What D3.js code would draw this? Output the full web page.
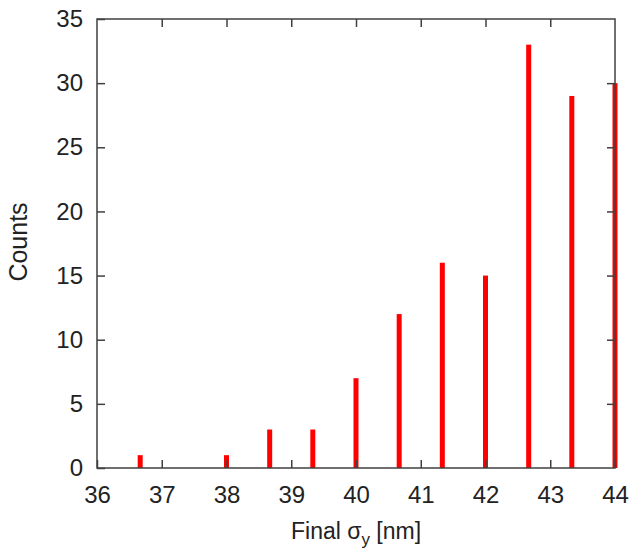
<!DOCTYPE html>
<html>
<head>
<meta charset="utf-8">
<script src="https://cdn.jsdelivr.net/npm/d3@7"></script>
<style>
  body { margin: 0; background: #fff; }
  svg { display: block; }
  .tick text { font-family: "Liberation Sans Narrow", "Arial Narrow", sans-serif; font-size: 24px; fill: #222; }
</style>
</head>
<body>
<svg></svg>
<script>
// histogram bins (centre of each bin) and counts
var binCentres = [36.667, 38.0, 38.667, 39.333, 40.0, 40.667, 41.333, 42.0, 42.667, 43.333, 44.0];
var counts = [1, 1, 3, 3, 7, 12, 16, 15, 33, 29, 30];
var xTicks = [36, 37, 38, 39, 40, 41, 42, 43, 44];
var yTicks = [0, 5, 10, 15, 20, 25, 30, 35];

document.addEventListener("DOMContentLoaded", function() {

  var width = 632;
  var height = 552;
  var left = 97, right = 615, top = 19, bottom = 468;
  var axisColor = "#404040";

  var data = binCentres.map(function(x, i) { return { x: x, count: counts[i] }; });

  var xScale = d3.scaleLinear().domain([36, 44]).range([left, right]);
  var yScale = d3.scaleLinear().domain([0, 35]).range([bottom, top]);

  var svg = d3.select("svg")
      .attr("width", width)
      .attr("height", height);

  // bars
  svg.selectAll("rect.bar")
    .data(data)
    .enter()
    .append("rect")
      .attr("class", "bar")
      .attr("x", d => xScale(d.x) - 2.5)
      .attr("width", 5)
      .attr("y", d => yScale(d.count))
      .attr("height", d => yScale(0) - yScale(d.count))
      .attr("fill", "#ff0000");

  function styleAxis(g) {
    g.select(".domain").remove();
    g.selectAll(".tick line").attr("stroke", axisColor).attr("stroke-width", 1.5);
  }

  var inner = function(v, ends) { return v !== ends[0] && v !== ends[ends.length - 1]; };

  svg.append("g")
      .attr("transform", "translate(0," + bottom + ")")
      .call(d3.axisBottom(xScale).tickValues(xTicks).tickSize(-8).tickPadding(18).tickFormat(d3.format("d")))
      .call(styleAxis);

  svg.append("g")
      .attr("transform", "translate(" + left + ",0)")
      .call(d3.axisLeft(yScale).tickValues(yTicks).tickSize(-8).tickPadding(14).tickFormat(d3.format("d")))
      .call(styleAxis);

  svg.append("g")
      .attr("transform", "translate(0," + top + ")")
      .call(d3.axisTop(xScale).tickValues(xTicks.filter(v => inner(v, xTicks))).tickSize(-8).tickFormat(""))
      .call(styleAxis);

  svg.append("g")
      .attr("transform", "translate(" + right + ",0)")
      .call(d3.axisRight(yScale).tickValues(yTicks.filter(v => inner(v, yTicks))).tickSize(-8).tickFormat(""))
      .call(styleAxis);

  // frame
  svg.append("rect")
      .attr("x", left)
      .attr("y", top)
      .attr("width", right - left)
      .attr("height", bottom - top)
      .attr("fill", "none")
      .attr("stroke", axisColor)
      .attr("stroke-width", 1.5);

  // axis titles
  var xLabel = svg.append("text")
      .attr("x", 356)
      .attr("y", 539)
      .attr("text-anchor", "middle")
      .style("font-family", "'Liberation Sans Narrow', 'Arial Narrow', sans-serif")
      .style("font-size", "23px")
      .style("fill", "#222");
  xLabel.append("tspan").text("Final \u03c3");
  xLabel.append("tspan").attr("dy", 6).style("font-size", "17px").text("y");
  xLabel.append("tspan").attr("dy", -6).text(" [nm]");

  svg.append("text")
      .attr("transform", "translate(27,242) rotate(-90)")
      .attr("text-anchor", "middle")
      .style("font-family", "'Liberation Sans', Arial, sans-serif")
      .style("font-size", "25px")
      .style("fill", "#222")
      .text("Counts");
});
</script>
</body>
</html>
